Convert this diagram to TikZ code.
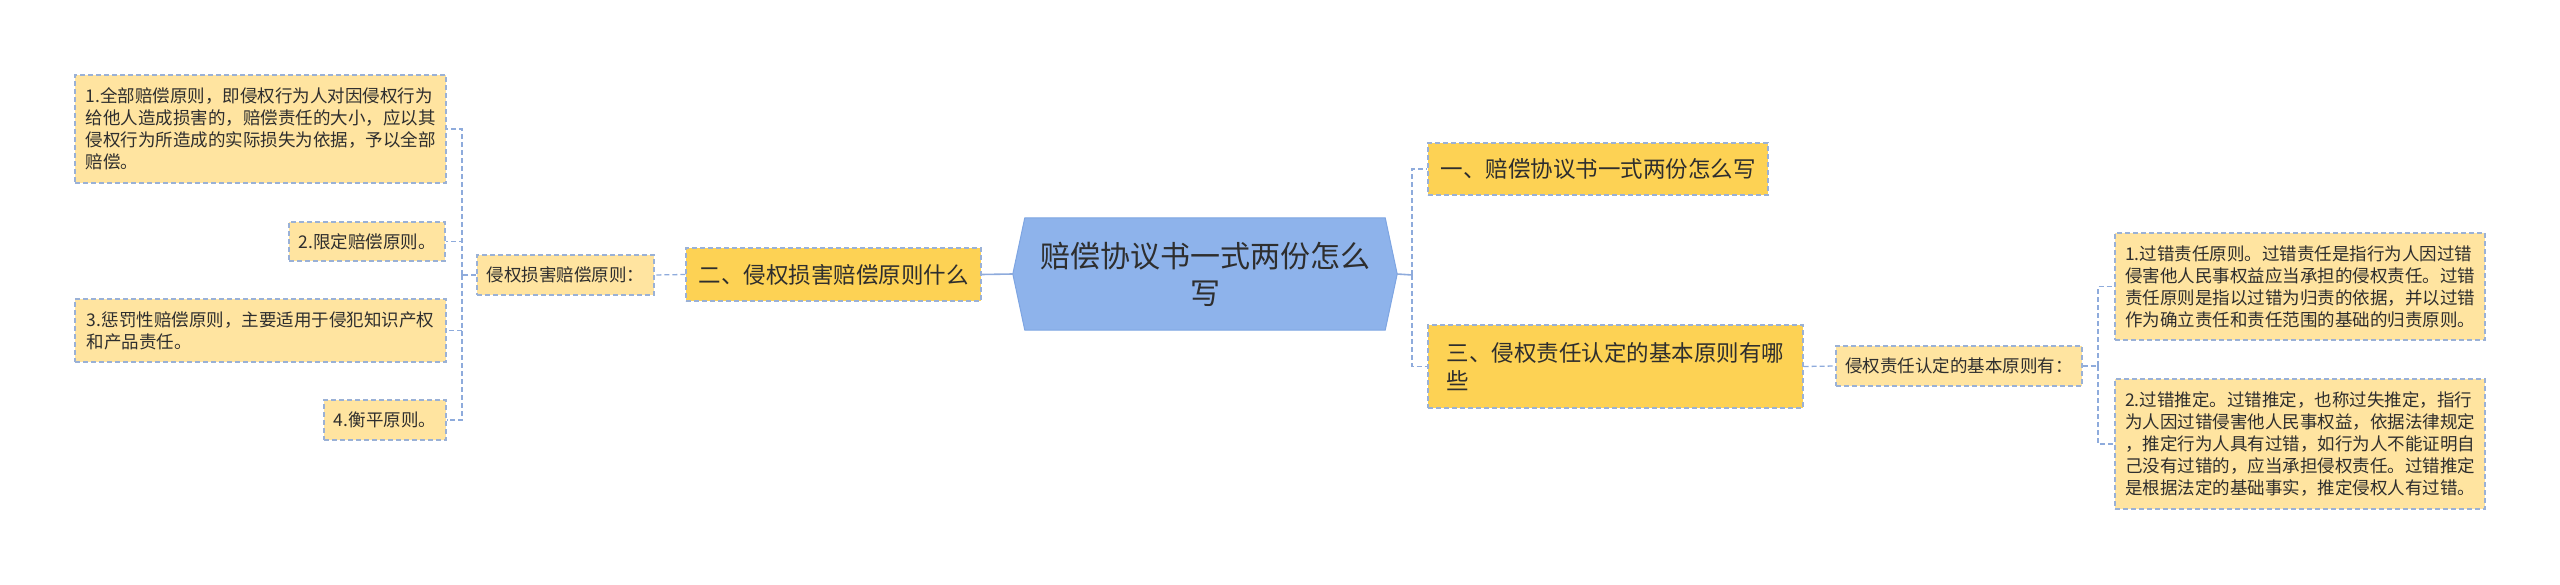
\documentclass[tikz,border=0pt]{standalone}
\usepackage{fontspec}
\setmainfont{Noto Sans CJK SC}
\usetikzlibrary{backgrounds}
\definecolor{leafc}{HTML}{FFE4A0}
\definecolor{branchc}{HTML}{FDD254}
\definecolor{bordc}{HTML}{9AB1D6}
\definecolor{linec}{HTML}{8EABDC}
\definecolor{centc}{HTML}{8EB3EB}
\definecolor{centb}{HTML}{7EA5E2}
\definecolor{textc}{HTML}{2E2E2E}
\tikzset{
  boxbase/.style={draw=bordc, line width=1.3pt, dash pattern=on 5pt off 3pt, text=textc, align=left, inner sep=0pt, anchor=center},
  leaf/.style={boxbase, fill=leafc, font=\fontsize{17.5}{22}\selectfont},
  branch/.style={boxbase, fill=branchc, font=\fontsize{22.5}{28}\selectfont},
  conn/.style={draw=linec, line width=1.3pt, dash pattern=on 5pt off 3pt},
  solidconn/.style={draw=linec, line width=1.6pt},
}
\begin{document}
\begin{tikzpicture}[x=1pt,y=-1pt]
\useasboundingbox (0,0) rectangle (2560,585);
% left leaves
\node[leaf, minimum width=371pt, minimum height=108pt] (n1) at (260.5,129)
  {1.全部赔偿原则，即侵权行为人对因侵权行为\\给他人造成损害的，赔偿责任的大小，应以其\\侵权行为所造成的实际损失为依据，予以全部\\赔偿。};
\node[leaf, minimum width=156pt, minimum height=39pt] (n2) at (367,241.5) {2.限定赔偿原则。};
\node[leaf, minimum width=371pt, minimum height=63pt] (n3) at (260.5,330.5)
  {3.惩罚性赔偿原则，主要适用于侵犯知识产权\\和产品责任。};
\node[leaf, minimum width=122pt, minimum height=40pt] (n4) at (385,420) {4.衡平原则。};
\node[leaf, minimum width=177pt, minimum height=40pt] (sL) at (565.5,275) {侵权损害赔偿原则：};
\node[branch, minimum width=295pt, minimum height=53pt] (bL) at (833.5,274.5) {二、侵权损害赔偿原则什么};
% central
\node[text=textc, align=center, inner sep=0pt, minimum width=384pt, minimum height=112pt,
      font=\fontsize{30}{37}\selectfont] (c) at (1205,274) {赔偿协议书一式两份怎么\\写};
\begin{scope}[on background layer]
\filldraw[fill=centc, draw=centb, line width=1pt] (c.west) -- ([xshift=12pt]c.north west) -- ([xshift=-12pt]c.north east)
  -- (c.east) -- ([xshift=-12pt]c.south east) -- ([xshift=12pt]c.south west) -- cycle;
\end{scope}
% right
\node[branch, minimum width=340pt, minimum height=52pt] (bR1) at (1598,169) {一、赔偿协议书一式两份怎么写};
\node[branch, minimum width=375pt, minimum height=83pt] (bR2) at (1615.5,366.5) {三、侵权责任认定的基本原则有哪\\些};
\node[leaf, minimum width=246pt, minimum height=40pt] (sR) at (1959,366) {侵权责任认定的基本原则有：};
\node[leaf, minimum width=370pt, minimum height=107pt] (R1) at (2300,286.5)
  {1.过错责任原则。过错责任是指行为人因过错\\侵害他人民事权益应当承担的侵权责任。过错\\责任原则是指以过错为归责的依据，并以过错\\作为确立责任和责任范围的基础的归责原则。};
\node[leaf, minimum width=370pt, minimum height=130pt] (R2) at (2300,444)
  {2.过错推定。过错推定，也称过失推定，指行\\为人因过错侵害他人民事权益，依据法律规定\\，推定行为人具有过错，如行为人不能证明自\\己没有过错的，应当承担侵权责任。过错推定\\是根据法定的基础事实，推定侵权人有过错。};
% buses
\coordinate (lbus) at (462,275);
\coordinate (rbus) at (1412,275);
\coordinate (sbus) at (2098,366);
% connectors
\draw[conn] (sL.west) -- (lbus);
\draw[conn] (lbus) |- (n1.east);
\draw[conn] (lbus) |- (n2.east);
\draw[conn] (lbus) |- (n3.east);
\draw[conn] (lbus) |- (n4.east);
\draw[conn] (bL.west) -- (sL.east);
\draw[solidconn] (c.west) -- (bL.east);
\draw[solidconn] (c.east) -- (rbus);
\draw[conn] (rbus) |- (bR1.west);
\draw[conn] (rbus) |- (bR2.west);
\draw[conn] (bR2.east) -- (sR.west);
\draw[conn] (sR.east) -- (sbus);
\draw[conn] (sbus) |- (R1.west);
\draw[conn] (sbus) |- (R2.west);
\end{tikzpicture}
\end{document}
